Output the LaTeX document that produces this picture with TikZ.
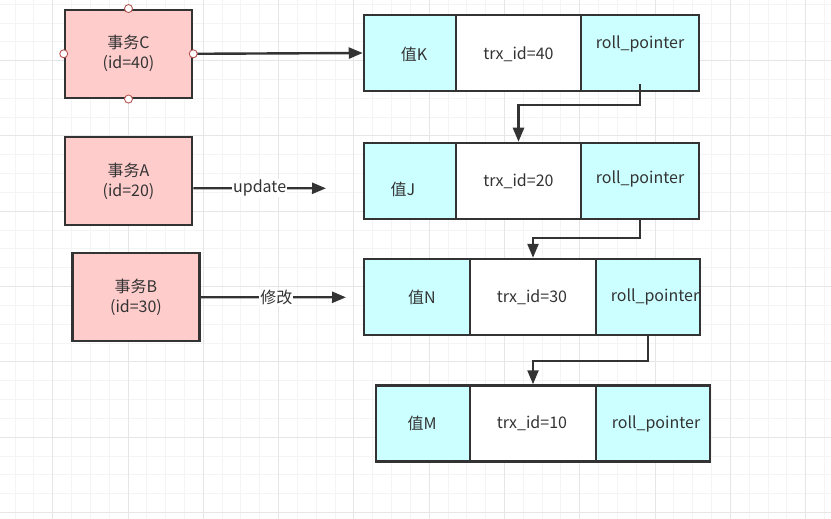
\documentclass[tikz,border=0pt]{standalone}
\usepackage{fontspec}
\setmainfont{Noto Sans CJK SC}
\usetikzlibrary{arrows.meta}
\definecolor{ink}{HTML}{333333}
\definecolor{pinkf}{HTML}{FFCCCC}
\definecolor{cyanf}{HTML}{CCFFFF}
\definecolor{portc}{HTML}{B85450}
\definecolor{gminor}{HTML}{F4F4F4}
\definecolor{gmajor}{HTML}{E6E6E6}
\begin{document}
\begin{tikzpicture}[x=1pt,y=-1pt,
  font=\fontsize{16}{20}\selectfont, text=ink,
  txbox/.style={draw=ink, line width=2.5pt, fill=pinkf, minimum width=127pt, minimum height=88pt, align=center, inner sep=0pt},
  cell/.style={draw=ink, line width=2.5pt, minimum height=76pt, inner sep=0pt},
  valcell/.style={cell, fill=cyanf},
  idcell/.style={cell, fill=white},
  portdot/.style={circle, draw=portc, fill=white, line width=0.9pt, minimum size=8pt, inner sep=0pt},
  arr/.style={draw=ink, line width=2.4pt, -{Triangle[length=14pt,width=11pt]}},
  lbl/.style={fill=white, inner sep=1pt}]
\useasboundingbox (0,0) rectangle (831,519);
% grid
\foreach \k in {-2,...,41}{
  \pgfmathsetmacro\xx{52.7+18.825*\k}
  \draw[gminor, line width=1pt] (\xx,0) -- (\xx,519);}
\foreach \k in {-3,...,24}{
  \pgfmathsetmacro\yy{60.7+18.825*\k}
  \draw[gminor, line width=1pt] (0,\yy) -- (831,\yy);}
\foreach \k in {0,...,10}{
  \pgfmathsetmacro\xx{52.7+75.3*\k}
  \draw[gmajor, line width=1pt] (\xx,0) -- (\xx,519);}
\foreach \k in {-1,...,6}{
  \pgfmathsetmacro\yy{60.7+75.3*\k}
  \draw[gmajor, line width=1pt] (0,\yy) -- (831,\yy);}

% transactions
\node[txbox] (C) at (128.5,53.8) {事务C\\(id=40)};
\node[txbox] (A) at (128.5,181.2) {事务A\\(id=20)};
\node[txbox] (B) at (136,297.2) {事务B\\(id=30)};

% record rows
\node[valcell, minimum width=92pt]  (r1a) at (410,53) {};
\node[idcell,  minimum width=125pt] (r1b) at (518.5,53) {};
\node[valcell, minimum width=118pt] (r1c) at (640,53) {};
\node[valcell, minimum width=92pt]  (r2a) at (410,181) {};
\node[idcell,  minimum width=125pt] (r2b) at (518.5,181) {};
\node[valcell, minimum width=118pt] (r2c) at (640,181) {};
\node[valcell, minimum width=106pt] (r3a) at (417,297) {};
\node[idcell,  minimum width=126pt] (r3b) at (533,297) {};
\node[valcell, minimum width=104pt] (r3c) at (648,297) {};
\node[valcell, minimum width=94pt]  (r4a) at (423,423.5) {};
\node[idcell,  minimum width=126pt] (r4b) at (533,423.5) {};
\node[valcell, minimum width=114pt] (r4c) at (653,423.5) {};

% cell texts
\node (t1a) at ([xshift=4pt,yshift=-1pt]r1a.center) {值K};
\node (t1b) at ([yshift=-1pt]r1b.center) {trx\_id=40};
\node (t1c) at ([yshift=9pt]r1c.center) {roll\_pointer};
\node (t2a) at ([xshift=-7pt,yshift=-8pt]r2a.center) {值J};
\node (t2b) at (r2b.center) {trx\_id=20};
\node (t2c) at ([yshift=2pt]r2c.center) {roll\_pointer};
\node (t3a) at ([xshift=5pt]r3a.center) {值N};
\node (t3b) at ([xshift=-1pt]r3b.center) {trx\_id=30};
\node (t3c) at ([xshift=7pt]r3c.center) {roll\_pointer};
\node (t4a) at ([xshift=-1pt]r4a.center) {值M};
\node (t4b) at ([xshift=-1pt]r4b.center) {trx\_id=10};
\node (t4c) at ([xshift=3pt]r4c.center) {roll\_pointer};

% connectors
\draw[arr] (C.east) -- (r1a.west);
\coordinate (Aend) at (326,188.3);
\coordinate (Bend) at (346,297.3);
\draw[arr] ([yshift=-7pt]A.east) -- node[lbl] {update} (Aend);
\draw[arr] (B.east) -- node[lbl, pos=0.52] {修改} (Bend);
\draw[arr] ([yshift=8pt]r1c.south) -- ++(0,21) -| (r2b.north);
\draw[arr] (r2c.south) -- ++(0,18) -| (r3b.north);
\draw[arr] (r3c.south) -- ++(0,25) -| (r4b.north);

% ports on C
\node[portdot] (Cn) at (C.north) {};
\node[portdot] (Cs) at (C.south) {};
\node[portdot] (Cw) at (C.west) {};
\node[portdot] (Ce) at (C.east) {};
\end{tikzpicture}
\end{document}
